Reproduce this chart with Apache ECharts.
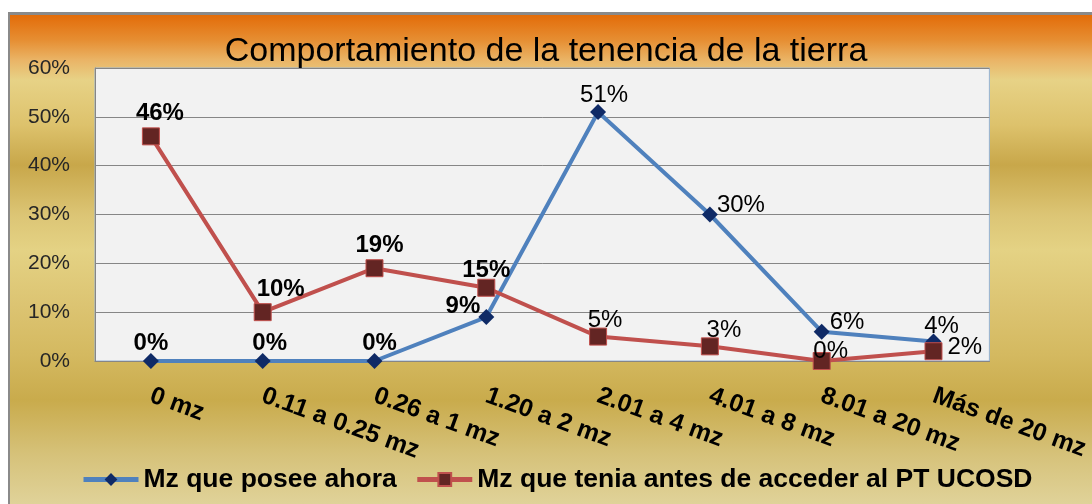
<!DOCTYPE html>
<html>
<head>
<meta charset="utf-8">
<script src="https://cdn.jsdelivr.net/npm/echarts@6/dist/echarts.min.js"></script>
<style>
  html, body { margin: 0; padding: 0; background: #fff; }
  #wrap { position: relative; width: 1092px; height: 504px; overflow: hidden; }
  #frame {
    position: absolute; left: 8px; top: 12px; width: 1100px; height: 500px;
    border-left: 2px solid #8a8a8a; border-top: 3px solid #8a8a8a;
    background: linear-gradient(to bottom,
      #e36c09 0%, #e68e32 5%, #eab466 9%, #e7d286 13%, #ddc26c 22%,
      #c8a74a 30%, #dcc575 40%, #e4d284 47%, #dcc472 58%, #d4b960 68%,
      #c9ab4c 77%, #d6c27a 88%, #e2d6a0 100%);
  }
  #chart { position: absolute; left: 0; top: 0; width: 1092px; height: 504px; }
</style>
</head>
<body>
<div id="wrap">
  <div id="frame"></div>
  <div id="chart"></div>
</div>
<script>
const categories = ['0 mz', '0.11 a 0.25 mz', '0.26 a 1 mz', '1.20 a 2 mz', '2.01 a 4 mz', '4.01 a 8 mz', '8.01 a 20 mz', 'Más de 20 mz']
const poseeAhora = [0, 0, 0, 9, 51, 30, 6, 4]
const teniaAntes = [46, 10, 19, 15, 5, 3, 0, 2]
const yTicks = { min: 0, max: 60, interval: 10 }

const FONT = '"Liberation Sans", Arial, sans-serif'

// ajustes de las etiquetas de cada punto
const ahoraLabels = [
  { position: 'top', offset: [0, 4], bold: true },
  { position: 'top', offset: [7, 4], bold: true },
  { position: 'top', offset: [5, 4], bold: true },
  { position: 'left', offset: [4, -11], bold: true },
  { position: 'top', offset: [6, 5], bold: false },
  { position: 'right', offset: [-3, -9], bold: false },
  { position: 'right', offset: [-2, -9], bold: false },
  { position: 'top', offset: [8, 7], bold: false }
]
const antesLabels = [
  { position: 'top', offset: [9, 0], bold: true },
  { position: 'top', offset: [18, 0], bold: true },
  { position: 'top', offset: [5, 0], bold: true },
  { position: 'top', offset: [0, 6], bold: true },
  { position: 'top', offset: [7, 7], bold: false },
  { position: 'top', offset: [14, 7], bold: false },
  { position: 'top', offset: [9, 13], bold: false },
  { position: 'right', offset: [3, -4], bold: false }
]

const buildData = (values, labels) => values.map((v, i) => ({
  value: v,
  label: {
    position: labels[i].position,
    offset: labels[i].offset,
    distance: 2,
    fontWeight: labels[i].bold ? 'bold' : 'normal'
  }
}))

const chart = echarts.init(document.getElementById('chart'))

const option = {
  backgroundColor: 'transparent',
  animation: false,
  title: {
    text: 'Comportamiento de la tenencia de la tierra',
    left: 'center',
    top: 30,
    textStyle: { fontFamily: FONT, fontSize: 34, fontWeight: 'normal', color: '#000' }
  },
  legend: {
    top: 461,
    left: 76,
    itemWidth: 55,
    itemHeight: 16,
    itemGap: 18,
    lineStyle: { width: 5 },
    textStyle: { fontFamily: FONT, fontSize: 26.5, fontWeight: 'bold', color: '#000' },
    data: ['Mz que posee ahora', 'Mz que tenia antes de acceder al PT UCOSD']
  },
  grid: {
    left: 95,
    right: 102,
    top: 68,
    bottom: 143,
    show: true,
    backgroundColor: '#f2f2f2',
    borderColor: '#95b3d7',
    borderWidth: 1
  },
  xAxis: {
    type: 'category',
    data: categories,
    boundaryGap: true,
    axisLine: { show: true, lineStyle: { color: '#868686', width: 1 } },
    axisTick: { show: false },
    axisLabel: {
      rotate: -20,
      margin: 34,
      interval: 0,
      fontFamily: FONT,
      fontSize: 25,
      fontWeight: 'bold',
      color: '#000'
    }
  },
  yAxis: {
    type: 'value',
    min: yTicks.min,
    max: yTicks.max,
    interval: yTicks.interval,
    axisLine: { show: true, lineStyle: { color: '#868686', width: 1 } },
    axisTick: { show: false },
    splitLine: { lineStyle: { color: '#868686', width: 1 } },
    axisLabel: {
      formatter: '{value}%',
      margin: 25,
      fontFamily: FONT,
      fontSize: 21,
      color: '#262626'
    }
  },
  series: [
    {
      name: 'Mz que posee ahora',
      type: 'line',
      data: buildData(poseeAhora, ahoraLabels),
      symbol: 'diamond',
      symbolSize: 16,
      lineStyle: { color: '#4f81bd', width: 4 },
      itemStyle: { color: '#0f2a66', borderColor: '#0f2a66', borderWidth: 0 },
      label: {
        show: true,
        formatter: '{c}%',
        fontFamily: FONT,
        fontSize: 24,
        color: '#000'
      },
      z: 2
    },
    {
      name: 'Mz que tenia antes de acceder al PT UCOSD',
      type: 'line',
      data: buildData(teniaAntes, antesLabels),
      symbol: 'rect',
      symbolSize: 17,
      lineStyle: { color: '#c0504d', width: 4 },
      itemStyle: { color: '#632523', borderColor: '#c0504d', borderWidth: 1 },
      label: {
        show: true,
        formatter: '{c}%',
        fontFamily: FONT,
        fontSize: 24,
        color: '#000'
      },
      z: 3
    }
  ]
}

chart.setOption(option)
</script>
</body>
</html>
